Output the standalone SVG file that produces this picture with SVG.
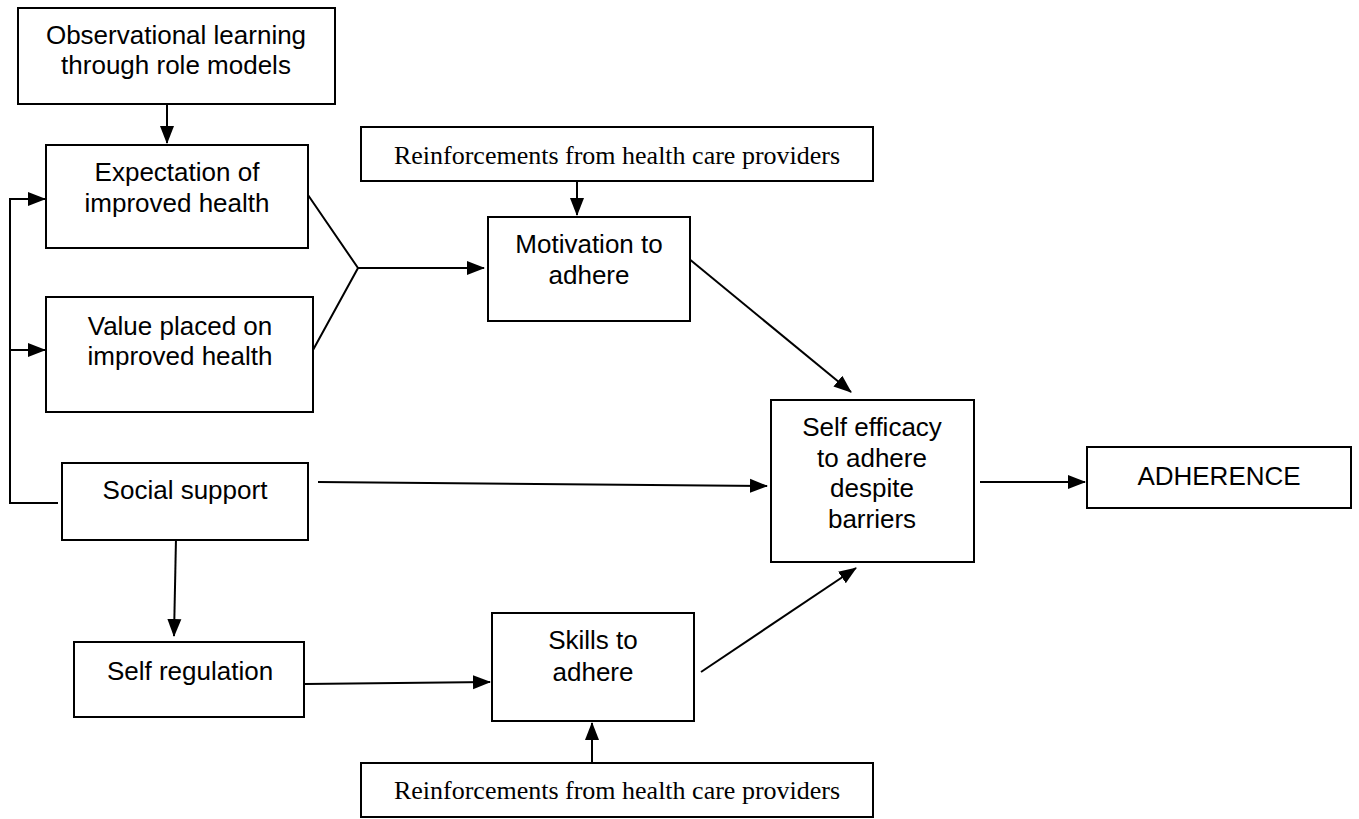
<svg xmlns="http://www.w3.org/2000/svg" width="1359" height="819" viewBox="0 0 1359 819">
<style>
rect.box{fill:#fff;stroke:#000;stroke-width:2}
text{font-family:"Liberation Sans",Arial,sans-serif;font-size:26px;fill:#000;text-anchor:middle}
text.serif{font-family:"Liberation Serif","Times New Roman",serif;font-size:26px}
#connectors line,#connectors polyline{stroke:#000;stroke-width:2;fill:none}
</style>
<defs>
<marker id="ah" markerUnits="userSpaceOnUse" markerWidth="18" markerHeight="16" refX="17" refY="8" orient="auto">
<path d="M0,1 L18,8 L0,15 Z" fill="#000"/>
</marker>
</defs>
<rect width="1359" height="819" fill="#fff"/>
<g id="connectors">
<line x1="167" y1="104" x2="167" y2="143" marker-end="url(#ah)"/>
<polyline points="58,503 10,503 10,199 45,199" marker-end="url(#ah)"/>
<line x1="10" y1="350" x2="45" y2="350" marker-end="url(#ah)"/>
<polyline points="308,195 358,268 313,350"/>
<line x1="358" y1="268" x2="484" y2="268" marker-end="url(#ah)"/>
<line x1="577" y1="181" x2="577" y2="215" marker-end="url(#ah)"/>
<line x1="688" y1="258" x2="851" y2="392" marker-end="url(#ah)"/>
<line x1="318" y1="482" x2="767" y2="486" marker-end="url(#ah)"/>
<line x1="980" y1="482" x2="1085" y2="482" marker-end="url(#ah)"/>
<line x1="176" y1="538" x2="174" y2="636" marker-end="url(#ah)"/>
<line x1="305" y1="684" x2="490" y2="682" marker-end="url(#ah)"/>
<line x1="701" y1="672" x2="856" y2="568" marker-end="url(#ah)"/>
<line x1="592" y1="763" x2="592" y2="723" marker-end="url(#ah)"/>
</g>
<g id="observational"><rect class="box" x="18" y="8" width="317" height="96"/><text x="176" y="44">Observational learning</text><text x="176" y="74">through role models</text></g>
<g id="expectation"><rect class="box" x="46" y="145" width="262" height="103"/><text x="177" y="181">Expectation of</text><text x="177" y="212">improved health</text></g>
<g id="value"><rect class="box" x="46" y="297" width="267" height="115"/><text x="180" y="335">Value placed on</text><text x="180" y="365">improved health</text></g>
<g id="social"><rect class="box" x="62" y="463" width="246" height="77"/><text x="185" y="499">Social support</text></g>
<g id="reinf-top"><rect class="box" x="361" y="127" width="512" height="54"/><text class="serif" x="617" y="164">Reinforcements from health care providers</text></g>
<g id="motivation"><rect class="box" x="488" y="217" width="202" height="104"/><text x="589" y="253">Motivation to</text><text x="589" y="284">adhere</text></g>
<g id="selfefficacy"><rect class="box" x="771" y="400" width="203" height="162"/><text x="872" y="436">Self efficacy</text><text x="872" y="467">to adhere</text><text x="872" y="497">despite</text><text x="872" y="528">barriers</text></g>
<g id="adherence"><rect class="box" x="1087" y="447" width="264" height="61"/><text x="1219" y="485">ADHERENCE</text></g>
<g id="selfregulation"><rect class="box" x="74" y="642" width="230" height="75"/><text x="190" y="680">Self regulation</text></g>
<g id="skills"><rect class="box" x="492" y="613" width="202" height="108"/><text x="593" y="649">Skills to</text><text x="593" y="681">adhere</text></g>
<g id="reinf-bottom"><rect class="box" x="361" y="763" width="512" height="54"/><text class="serif" x="617" y="799">Reinforcements from health care providers</text></g>
</svg>
